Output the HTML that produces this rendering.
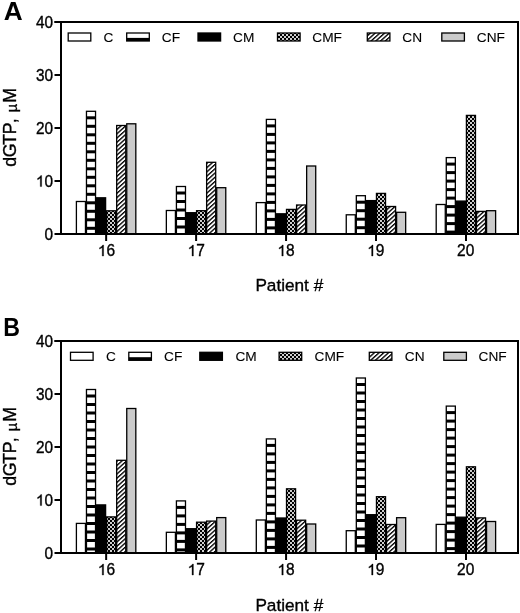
<!DOCTYPE html><html><head><meta charset="utf-8"><style>html,body{margin:0;padding:0;background:#fff;}svg{display:block;will-change:transform}</style></head><body>
<svg width="520" height="613" viewBox="0 0 520 613">
<defs>
<pattern id="pCMF" patternUnits="userSpaceOnUse" width="4" height="4"><rect width="4" height="4" fill="#000"/><rect x="0.1" y="0.1" width="1.8" height="1.8" fill="#fff"/><rect x="2.1" y="2.1" width="1.8" height="1.8" fill="#fff"/></pattern>
<pattern id="pCN" patternUnits="userSpaceOnUse" width="3.16" height="3.16" patternTransform="rotate(48)"><rect width="3.16" height="3.16" fill="#fff"/><rect x="0" y="0" width="1.35" height="3.16" fill="#000"/></pattern>
<path id="one" d="M0.373,0 L0.285,0 L0.285,0.538 C0.264,0.518 0.236,0.499 0.201,0.479 C0.167,0.459 0.136,0.444 0.109,0.434 L0.109,0.516 C0.158,0.538 0.201,0.565 0.238,0.597 C0.275,0.628 0.301,0.659 0.316,0.688 L0.373,0.688 Z" fill="#000" stroke="#000" stroke-width="0.35" vector-effect="non-scaling-stroke"/>
</defs>
<rect width="520" height="613" fill="#fff"/>
<style>text{stroke:#000;stroke-width:0.35px;paint-order:stroke}</style>
<g><text transform="translate(3.7,19.9) scale(1.04,1)" style="stroke:none" font-family='"Liberation Sans", sans-serif' font-weight="bold" font-size="25.2">A</text><text transform="translate(15.7,166.6) rotate(-90)" font-family='"Liberation Sans", sans-serif' font-size="17.8"><tspan x="-0.1" y="0">d</tspan><tspan x="9.34" y="0">G</tspan><tspan x="21.72" y="0">T</tspan><tspan x="32.35" y="0">P</tspan><tspan x="43.38" y="0">,</tspan><tspan x="54.44" y="0.8" font-size="14.5">µ</tspan><tspan x="63.79" y="0">M</tspan></text><line x1="54.5" x2="61" y1="234.00" y2="234.00" stroke="#000" stroke-width="2"/><g transform="translate(53.00,0) scale(0.96,1) translate(-53.00,0)"><text x="44.10" y="239.60" font-family='"Liberation Sans", sans-serif' font-size="16">0</text></g><line x1="54.5" x2="61" y1="181.00" y2="181.00" stroke="#000" stroke-width="2"/><g transform="translate(53.00,0) scale(0.96,1) translate(-53.00,0)"><use href="#one" transform="translate(35.20,186.60) scale(16,-16)"/><text x="44.10" y="186.60" font-family='"Liberation Sans", sans-serif' font-size="16">0</text></g><line x1="54.5" x2="61" y1="128.00" y2="128.00" stroke="#000" stroke-width="2"/><g transform="translate(53.00,0) scale(0.96,1) translate(-53.00,0)"><text x="35.20" y="133.60" font-family='"Liberation Sans", sans-serif' font-size="16">2</text><text x="44.10" y="133.60" font-family='"Liberation Sans", sans-serif' font-size="16">0</text></g><line x1="54.5" x2="61" y1="75.00" y2="75.00" stroke="#000" stroke-width="2"/><g transform="translate(53.00,0) scale(0.96,1) translate(-53.00,0)"><text x="35.20" y="80.60" font-family='"Liberation Sans", sans-serif' font-size="16">3</text><text x="44.10" y="80.60" font-family='"Liberation Sans", sans-serif' font-size="16">0</text></g><line x1="54.5" x2="61" y1="22.00" y2="22.00" stroke="#000" stroke-width="2"/><g transform="translate(53.00,0) scale(0.96,1) translate(-53.00,0)"><text x="35.20" y="27.60" font-family='"Liberation Sans", sans-serif' font-size="16">4</text><text x="44.10" y="27.60" font-family='"Liberation Sans", sans-serif' font-size="16">0</text></g><rect x="76.40" y="201.50" width="9.07" height="32.50" fill="#fff" stroke="#000" stroke-width="1.3"/><rect x="86.47" y="111.30" width="9.07" height="122.70" fill="#fff"/><rect x="86.47" y="116.30" width="9.07" height="3.00" fill="#000"/><rect x="86.47" y="124.80" width="9.07" height="3.00" fill="#000"/><rect x="86.47" y="133.30" width="9.07" height="3.00" fill="#000"/><rect x="86.47" y="141.80" width="9.07" height="3.00" fill="#000"/><rect x="86.47" y="150.30" width="9.07" height="3.00" fill="#000"/><rect x="86.47" y="158.80" width="9.07" height="3.00" fill="#000"/><rect x="86.47" y="167.30" width="9.07" height="3.00" fill="#000"/><rect x="86.47" y="175.80" width="9.07" height="3.00" fill="#000"/><rect x="86.47" y="184.30" width="9.07" height="3.00" fill="#000"/><rect x="86.47" y="192.80" width="9.07" height="3.00" fill="#000"/><rect x="86.47" y="201.30" width="9.07" height="3.00" fill="#000"/><rect x="86.47" y="209.80" width="9.07" height="3.00" fill="#000"/><rect x="86.47" y="218.30" width="9.07" height="3.00" fill="#000"/><rect x="86.47" y="226.80" width="9.07" height="3.00" fill="#000"/><rect x="86.47" y="111.30" width="9.07" height="122.70" fill="none" stroke="#000" stroke-width="1.3"/><rect x="96.54" y="197.80" width="9.07" height="36.20" fill="#000" stroke="#000" stroke-width="1.3"/><rect x="106.61" y="210.80" width="9.07" height="23.20" fill="url(#pCMF)" stroke="#000" stroke-width="1.3"/><rect x="116.68" y="125.50" width="9.07" height="108.50" fill="url(#pCN)" stroke="#000" stroke-width="1.3"/><rect x="126.75" y="123.80" width="9.07" height="110.20" fill="#cbcbcb" stroke="#000" stroke-width="1.3"/><rect x="166.35" y="210.50" width="9.07" height="23.50" fill="#fff" stroke="#000" stroke-width="1.3"/><rect x="176.42" y="186.50" width="9.07" height="47.50" fill="#fff"/><rect x="176.42" y="191.50" width="9.07" height="3.00" fill="#000"/><rect x="176.42" y="200.00" width="9.07" height="3.00" fill="#000"/><rect x="176.42" y="208.50" width="9.07" height="3.00" fill="#000"/><rect x="176.42" y="217.00" width="9.07" height="3.00" fill="#000"/><rect x="176.42" y="225.50" width="9.07" height="3.00" fill="#000"/><rect x="176.42" y="186.50" width="9.07" height="47.50" fill="none" stroke="#000" stroke-width="1.3"/><rect x="186.49" y="212.70" width="9.07" height="21.30" fill="#000" stroke="#000" stroke-width="1.3"/><rect x="196.56" y="210.70" width="9.07" height="23.30" fill="url(#pCMF)" stroke="#000" stroke-width="1.3"/><rect x="206.63" y="162.30" width="9.07" height="71.70" fill="url(#pCN)" stroke="#000" stroke-width="1.3"/><rect x="216.70" y="187.70" width="9.07" height="46.30" fill="#cbcbcb" stroke="#000" stroke-width="1.3"/><rect x="256.30" y="202.60" width="9.07" height="31.40" fill="#fff" stroke="#000" stroke-width="1.3"/><rect x="266.37" y="119.40" width="9.07" height="114.60" fill="#fff"/><rect x="266.37" y="124.40" width="9.07" height="3.00" fill="#000"/><rect x="266.37" y="132.90" width="9.07" height="3.00" fill="#000"/><rect x="266.37" y="141.40" width="9.07" height="3.00" fill="#000"/><rect x="266.37" y="149.90" width="9.07" height="3.00" fill="#000"/><rect x="266.37" y="158.40" width="9.07" height="3.00" fill="#000"/><rect x="266.37" y="166.90" width="9.07" height="3.00" fill="#000"/><rect x="266.37" y="175.40" width="9.07" height="3.00" fill="#000"/><rect x="266.37" y="183.90" width="9.07" height="3.00" fill="#000"/><rect x="266.37" y="192.40" width="9.07" height="3.00" fill="#000"/><rect x="266.37" y="200.90" width="9.07" height="3.00" fill="#000"/><rect x="266.37" y="209.40" width="9.07" height="3.00" fill="#000"/><rect x="266.37" y="217.90" width="9.07" height="3.00" fill="#000"/><rect x="266.37" y="226.40" width="9.07" height="3.00" fill="#000"/><rect x="266.37" y="119.40" width="9.07" height="114.60" fill="none" stroke="#000" stroke-width="1.3"/><rect x="276.44" y="213.80" width="9.07" height="20.20" fill="#000" stroke="#000" stroke-width="1.3"/><rect x="286.51" y="209.40" width="9.07" height="24.60" fill="url(#pCMF)" stroke="#000" stroke-width="1.3"/><rect x="296.58" y="205.00" width="9.07" height="29.00" fill="url(#pCN)" stroke="#000" stroke-width="1.3"/><rect x="306.65" y="166.00" width="9.07" height="68.00" fill="#cbcbcb" stroke="#000" stroke-width="1.3"/><rect x="346.25" y="214.80" width="9.07" height="19.20" fill="#fff" stroke="#000" stroke-width="1.3"/><rect x="356.32" y="195.70" width="9.07" height="38.30" fill="#fff"/><rect x="356.32" y="200.70" width="9.07" height="3.00" fill="#000"/><rect x="356.32" y="209.20" width="9.07" height="3.00" fill="#000"/><rect x="356.32" y="217.70" width="9.07" height="3.00" fill="#000"/><rect x="356.32" y="226.20" width="9.07" height="3.00" fill="#000"/><rect x="356.32" y="195.70" width="9.07" height="38.30" fill="none" stroke="#000" stroke-width="1.3"/><rect x="366.39" y="200.60" width="9.07" height="33.40" fill="#000" stroke="#000" stroke-width="1.3"/><rect x="376.46" y="193.40" width="9.07" height="40.60" fill="url(#pCMF)" stroke="#000" stroke-width="1.3"/><rect x="386.53" y="206.50" width="9.07" height="27.50" fill="url(#pCN)" stroke="#000" stroke-width="1.3"/><rect x="396.60" y="212.30" width="9.07" height="21.70" fill="#cbcbcb" stroke="#000" stroke-width="1.3"/><rect x="436.20" y="204.50" width="9.07" height="29.50" fill="#fff" stroke="#000" stroke-width="1.3"/><rect x="446.27" y="157.60" width="9.07" height="76.40" fill="#fff"/><rect x="446.27" y="162.60" width="9.07" height="3.00" fill="#000"/><rect x="446.27" y="171.10" width="9.07" height="3.00" fill="#000"/><rect x="446.27" y="179.60" width="9.07" height="3.00" fill="#000"/><rect x="446.27" y="188.10" width="9.07" height="3.00" fill="#000"/><rect x="446.27" y="196.60" width="9.07" height="3.00" fill="#000"/><rect x="446.27" y="205.10" width="9.07" height="3.00" fill="#000"/><rect x="446.27" y="213.60" width="9.07" height="3.00" fill="#000"/><rect x="446.27" y="222.10" width="9.07" height="3.00" fill="#000"/><rect x="446.27" y="230.60" width="9.07" height="3.00" fill="#000"/><rect x="446.27" y="157.60" width="9.07" height="76.40" fill="none" stroke="#000" stroke-width="1.3"/><rect x="456.34" y="201.10" width="9.07" height="32.90" fill="#000" stroke="#000" stroke-width="1.3"/><rect x="466.41" y="115.40" width="9.07" height="118.60" fill="url(#pCMF)" stroke="#000" stroke-width="1.3"/><rect x="476.48" y="211.40" width="9.07" height="22.60" fill="url(#pCN)" stroke="#000" stroke-width="1.3"/><rect x="486.55" y="210.70" width="9.07" height="23.30" fill="#cbcbcb" stroke="#000" stroke-width="1.3"/><path d="M61 22 H518 V234 H61 Z" fill="none" stroke="#000" stroke-width="2"/><line x1="54.5" x2="61" y1="22" y2="22" stroke="#000" stroke-width="2"/><line x1="106.15" x2="106.15" y1="234" y2="241" stroke="#000" stroke-width="2"/><g transform="translate(106.45,0) scale(0.97,1) translate(-106.45,0)"><use href="#one" transform="translate(97.55,256.00) scale(16,-16)"/><text x="106.45" y="256.00" font-family='"Liberation Sans", sans-serif' font-size="16">6</text></g><line x1="196.11" x2="196.11" y1="234" y2="241" stroke="#000" stroke-width="2"/><g transform="translate(196.25,0) scale(0.97,1) translate(-196.25,0)"><use href="#one" transform="translate(187.35,256.00) scale(16,-16)"/><text x="196.25" y="256.00" font-family='"Liberation Sans", sans-serif' font-size="16">7</text></g><line x1="286.07" x2="286.07" y1="234" y2="241" stroke="#000" stroke-width="2"/><g transform="translate(286.05,0) scale(0.97,1) translate(-286.05,0)"><use href="#one" transform="translate(277.15,256.00) scale(16,-16)"/><text x="286.05" y="256.00" font-family='"Liberation Sans", sans-serif' font-size="16">8</text></g><line x1="376.03" x2="376.03" y1="234" y2="241" stroke="#000" stroke-width="2"/><g transform="translate(375.85,0) scale(0.97,1) translate(-375.85,0)"><use href="#one" transform="translate(366.95,256.00) scale(16,-16)"/><text x="375.85" y="256.00" font-family='"Liberation Sans", sans-serif' font-size="16">9</text></g><line x1="465.99" x2="465.99" y1="234" y2="241" stroke="#000" stroke-width="2"/><g transform="translate(465.65,0) scale(0.97,1) translate(-465.65,0)"><text x="456.75" y="256.00" font-family='"Liberation Sans", sans-serif' font-size="16">2</text><text x="465.65" y="256.00" font-family='"Liberation Sans", sans-serif' font-size="16">0</text></g><text x="289.3" y="291.30" text-anchor="middle" font-family='"Liberation Sans", sans-serif' font-size="17.2">Patient #</text><rect x="68.20" y="33.00" width="22.6" height="8.0" fill="#fff" stroke="#000" stroke-width="1.3"/><text x="103.50" y="42.00" style="stroke-width:0.12px" font-family='"Liberation Sans", sans-serif' font-size="13.7">C</text><rect x="126.70" y="33.00" width="22.6" height="8.0" fill="#fff"/><rect x="126.70" y="37.90" width="22.6" height="3.1" fill="#000"/><rect x="126.70" y="33.00" width="22.6" height="8.0" fill="none" stroke="#000" stroke-width="1.3"/><text x="161.80" y="42.00" style="stroke-width:0.12px" font-family='"Liberation Sans", sans-serif' font-size="13.7">CF</text><rect x="198.00" y="33.00" width="22.6" height="8.0" fill="#000" stroke="#000" stroke-width="1.3"/><text x="233.00" y="42.00" style="stroke-width:0.12px" font-family='"Liberation Sans", sans-serif' font-size="13.7">CM</text><rect x="277.50" y="33.00" width="22.6" height="8.0" fill="url(#pCMF)" stroke="#000" stroke-width="1.3"/><text x="312.30" y="42.00" style="stroke-width:0.12px" font-family='"Liberation Sans", sans-serif' font-size="13.7">CMF</text><rect x="367.30" y="33.00" width="22.6" height="8.0" fill="url(#pCN)" stroke="#000" stroke-width="1.3"/><text x="402.30" y="42.00" style="stroke-width:0.12px" font-family='"Liberation Sans", sans-serif' font-size="13.7">CN</text><rect x="441.80" y="33.00" width="22.6" height="8.0" fill="#cbcbcb" stroke="#000" stroke-width="1.3"/><text x="476.80" y="42.00" style="stroke-width:0.12px" font-family='"Liberation Sans", sans-serif' font-size="13.7">CNF</text></g>
<g><text transform="translate(3.3,335.7) scale(0.92,1)" style="stroke:none" font-family='"Liberation Sans", sans-serif' font-weight="bold" font-size="25.2">B</text><text transform="translate(15.7,485.6) rotate(-90)" font-family='"Liberation Sans", sans-serif' font-size="17.8"><tspan x="-0.1" y="0">d</tspan><tspan x="9.34" y="0">G</tspan><tspan x="21.72" y="0">T</tspan><tspan x="32.35" y="0">P</tspan><tspan x="43.38" y="0">,</tspan><tspan x="54.44" y="0.8" font-size="14.5">µ</tspan><tspan x="63.79" y="0">M</tspan></text><line x1="54.5" x2="61" y1="553.00" y2="553.00" stroke="#000" stroke-width="2"/><g transform="translate(53.00,0) scale(0.96,1) translate(-53.00,0)"><text x="44.10" y="558.60" font-family='"Liberation Sans", sans-serif' font-size="16">0</text></g><line x1="54.5" x2="61" y1="500.00" y2="500.00" stroke="#000" stroke-width="2"/><g transform="translate(53.00,0) scale(0.96,1) translate(-53.00,0)"><use href="#one" transform="translate(35.20,505.60) scale(16,-16)"/><text x="44.10" y="505.60" font-family='"Liberation Sans", sans-serif' font-size="16">0</text></g><line x1="54.5" x2="61" y1="447.00" y2="447.00" stroke="#000" stroke-width="2"/><g transform="translate(53.00,0) scale(0.96,1) translate(-53.00,0)"><text x="35.20" y="452.60" font-family='"Liberation Sans", sans-serif' font-size="16">2</text><text x="44.10" y="452.60" font-family='"Liberation Sans", sans-serif' font-size="16">0</text></g><line x1="54.5" x2="61" y1="394.00" y2="394.00" stroke="#000" stroke-width="2"/><g transform="translate(53.00,0) scale(0.96,1) translate(-53.00,0)"><text x="35.20" y="399.60" font-family='"Liberation Sans", sans-serif' font-size="16">3</text><text x="44.10" y="399.60" font-family='"Liberation Sans", sans-serif' font-size="16">0</text></g><line x1="54.5" x2="61" y1="341.00" y2="341.00" stroke="#000" stroke-width="2"/><g transform="translate(53.00,0) scale(0.96,1) translate(-53.00,0)"><text x="35.20" y="346.60" font-family='"Liberation Sans", sans-serif' font-size="16">4</text><text x="44.10" y="346.60" font-family='"Liberation Sans", sans-serif' font-size="16">0</text></g><rect x="76.40" y="523.40" width="9.07" height="29.60" fill="#fff" stroke="#000" stroke-width="1.3"/><rect x="86.47" y="389.50" width="9.07" height="163.50" fill="#fff"/><rect x="86.47" y="394.50" width="9.07" height="3.00" fill="#000"/><rect x="86.47" y="403.00" width="9.07" height="3.00" fill="#000"/><rect x="86.47" y="411.50" width="9.07" height="3.00" fill="#000"/><rect x="86.47" y="420.00" width="9.07" height="3.00" fill="#000"/><rect x="86.47" y="428.50" width="9.07" height="3.00" fill="#000"/><rect x="86.47" y="437.00" width="9.07" height="3.00" fill="#000"/><rect x="86.47" y="445.50" width="9.07" height="3.00" fill="#000"/><rect x="86.47" y="454.00" width="9.07" height="3.00" fill="#000"/><rect x="86.47" y="462.50" width="9.07" height="3.00" fill="#000"/><rect x="86.47" y="471.00" width="9.07" height="3.00" fill="#000"/><rect x="86.47" y="479.50" width="9.07" height="3.00" fill="#000"/><rect x="86.47" y="488.00" width="9.07" height="3.00" fill="#000"/><rect x="86.47" y="496.50" width="9.07" height="3.00" fill="#000"/><rect x="86.47" y="505.00" width="9.07" height="3.00" fill="#000"/><rect x="86.47" y="513.50" width="9.07" height="3.00" fill="#000"/><rect x="86.47" y="522.00" width="9.07" height="3.00" fill="#000"/><rect x="86.47" y="530.50" width="9.07" height="3.00" fill="#000"/><rect x="86.47" y="539.00" width="9.07" height="3.00" fill="#000"/><rect x="86.47" y="547.50" width="9.07" height="3.00" fill="#000"/><rect x="86.47" y="389.50" width="9.07" height="163.50" fill="none" stroke="#000" stroke-width="1.3"/><rect x="96.54" y="504.90" width="9.07" height="48.10" fill="#000" stroke="#000" stroke-width="1.3"/><rect x="106.61" y="516.90" width="9.07" height="36.10" fill="url(#pCMF)" stroke="#000" stroke-width="1.3"/><rect x="116.68" y="460.30" width="9.07" height="92.70" fill="url(#pCN)" stroke="#000" stroke-width="1.3"/><rect x="126.75" y="408.50" width="9.07" height="144.50" fill="#cbcbcb" stroke="#000" stroke-width="1.3"/><rect x="166.35" y="532.30" width="9.07" height="20.70" fill="#fff" stroke="#000" stroke-width="1.3"/><rect x="176.42" y="500.90" width="9.07" height="52.10" fill="#fff"/><rect x="176.42" y="505.90" width="9.07" height="3.00" fill="#000"/><rect x="176.42" y="514.40" width="9.07" height="3.00" fill="#000"/><rect x="176.42" y="522.90" width="9.07" height="3.00" fill="#000"/><rect x="176.42" y="531.40" width="9.07" height="3.00" fill="#000"/><rect x="176.42" y="539.90" width="9.07" height="3.00" fill="#000"/><rect x="176.42" y="548.40" width="9.07" height="3.00" fill="#000"/><rect x="176.42" y="500.90" width="9.07" height="52.10" fill="none" stroke="#000" stroke-width="1.3"/><rect x="186.49" y="528.70" width="9.07" height="24.30" fill="#000" stroke="#000" stroke-width="1.3"/><rect x="196.56" y="522.20" width="9.07" height="30.80" fill="url(#pCMF)" stroke="#000" stroke-width="1.3"/><rect x="206.63" y="521.10" width="9.07" height="31.90" fill="url(#pCN)" stroke="#000" stroke-width="1.3"/><rect x="216.70" y="517.60" width="9.07" height="35.40" fill="#cbcbcb" stroke="#000" stroke-width="1.3"/><rect x="256.30" y="520.00" width="9.07" height="33.00" fill="#fff" stroke="#000" stroke-width="1.3"/><rect x="266.37" y="438.90" width="9.07" height="114.10" fill="#fff"/><rect x="266.37" y="443.90" width="9.07" height="3.00" fill="#000"/><rect x="266.37" y="452.40" width="9.07" height="3.00" fill="#000"/><rect x="266.37" y="460.90" width="9.07" height="3.00" fill="#000"/><rect x="266.37" y="469.40" width="9.07" height="3.00" fill="#000"/><rect x="266.37" y="477.90" width="9.07" height="3.00" fill="#000"/><rect x="266.37" y="486.40" width="9.07" height="3.00" fill="#000"/><rect x="266.37" y="494.90" width="9.07" height="3.00" fill="#000"/><rect x="266.37" y="503.40" width="9.07" height="3.00" fill="#000"/><rect x="266.37" y="511.90" width="9.07" height="3.00" fill="#000"/><rect x="266.37" y="520.40" width="9.07" height="3.00" fill="#000"/><rect x="266.37" y="528.90" width="9.07" height="3.00" fill="#000"/><rect x="266.37" y="537.40" width="9.07" height="3.00" fill="#000"/><rect x="266.37" y="545.90" width="9.07" height="3.00" fill="#000"/><rect x="266.37" y="438.90" width="9.07" height="114.10" fill="none" stroke="#000" stroke-width="1.3"/><rect x="276.44" y="518.00" width="9.07" height="35.00" fill="#000" stroke="#000" stroke-width="1.3"/><rect x="286.51" y="488.80" width="9.07" height="64.20" fill="url(#pCMF)" stroke="#000" stroke-width="1.3"/><rect x="296.58" y="520.20" width="9.07" height="32.80" fill="url(#pCN)" stroke="#000" stroke-width="1.3"/><rect x="306.65" y="524.00" width="9.07" height="29.00" fill="#cbcbcb" stroke="#000" stroke-width="1.3"/><rect x="346.25" y="530.70" width="9.07" height="22.30" fill="#fff" stroke="#000" stroke-width="1.3"/><rect x="356.32" y="378.00" width="9.07" height="175.00" fill="#fff"/><rect x="356.32" y="383.00" width="9.07" height="3.00" fill="#000"/><rect x="356.32" y="391.50" width="9.07" height="3.00" fill="#000"/><rect x="356.32" y="400.00" width="9.07" height="3.00" fill="#000"/><rect x="356.32" y="408.50" width="9.07" height="3.00" fill="#000"/><rect x="356.32" y="417.00" width="9.07" height="3.00" fill="#000"/><rect x="356.32" y="425.50" width="9.07" height="3.00" fill="#000"/><rect x="356.32" y="434.00" width="9.07" height="3.00" fill="#000"/><rect x="356.32" y="442.50" width="9.07" height="3.00" fill="#000"/><rect x="356.32" y="451.00" width="9.07" height="3.00" fill="#000"/><rect x="356.32" y="459.50" width="9.07" height="3.00" fill="#000"/><rect x="356.32" y="468.00" width="9.07" height="3.00" fill="#000"/><rect x="356.32" y="476.50" width="9.07" height="3.00" fill="#000"/><rect x="356.32" y="485.00" width="9.07" height="3.00" fill="#000"/><rect x="356.32" y="493.50" width="9.07" height="3.00" fill="#000"/><rect x="356.32" y="502.00" width="9.07" height="3.00" fill="#000"/><rect x="356.32" y="510.50" width="9.07" height="3.00" fill="#000"/><rect x="356.32" y="519.00" width="9.07" height="3.00" fill="#000"/><rect x="356.32" y="527.50" width="9.07" height="3.00" fill="#000"/><rect x="356.32" y="536.00" width="9.07" height="3.00" fill="#000"/><rect x="356.32" y="544.50" width="9.07" height="3.00" fill="#000"/><rect x="356.32" y="378.00" width="9.07" height="175.00" fill="none" stroke="#000" stroke-width="1.3"/><rect x="366.39" y="514.70" width="9.07" height="38.30" fill="#000" stroke="#000" stroke-width="1.3"/><rect x="376.46" y="496.70" width="9.07" height="56.30" fill="url(#pCMF)" stroke="#000" stroke-width="1.3"/><rect x="386.53" y="524.50" width="9.07" height="28.50" fill="url(#pCN)" stroke="#000" stroke-width="1.3"/><rect x="396.60" y="517.70" width="9.07" height="35.30" fill="#cbcbcb" stroke="#000" stroke-width="1.3"/><rect x="436.20" y="524.40" width="9.07" height="28.60" fill="#fff" stroke="#000" stroke-width="1.3"/><rect x="446.27" y="406.10" width="9.07" height="146.90" fill="#fff"/><rect x="446.27" y="411.10" width="9.07" height="3.00" fill="#000"/><rect x="446.27" y="419.60" width="9.07" height="3.00" fill="#000"/><rect x="446.27" y="428.10" width="9.07" height="3.00" fill="#000"/><rect x="446.27" y="436.60" width="9.07" height="3.00" fill="#000"/><rect x="446.27" y="445.10" width="9.07" height="3.00" fill="#000"/><rect x="446.27" y="453.60" width="9.07" height="3.00" fill="#000"/><rect x="446.27" y="462.10" width="9.07" height="3.00" fill="#000"/><rect x="446.27" y="470.60" width="9.07" height="3.00" fill="#000"/><rect x="446.27" y="479.10" width="9.07" height="3.00" fill="#000"/><rect x="446.27" y="487.60" width="9.07" height="3.00" fill="#000"/><rect x="446.27" y="496.10" width="9.07" height="3.00" fill="#000"/><rect x="446.27" y="504.60" width="9.07" height="3.00" fill="#000"/><rect x="446.27" y="513.10" width="9.07" height="3.00" fill="#000"/><rect x="446.27" y="521.60" width="9.07" height="3.00" fill="#000"/><rect x="446.27" y="530.10" width="9.07" height="3.00" fill="#000"/><rect x="446.27" y="538.60" width="9.07" height="3.00" fill="#000"/><rect x="446.27" y="547.10" width="9.07" height="3.00" fill="#000"/><rect x="446.27" y="406.10" width="9.07" height="146.90" fill="none" stroke="#000" stroke-width="1.3"/><rect x="456.34" y="517.20" width="9.07" height="35.80" fill="#000" stroke="#000" stroke-width="1.3"/><rect x="466.41" y="466.80" width="9.07" height="86.20" fill="url(#pCMF)" stroke="#000" stroke-width="1.3"/><rect x="476.48" y="517.90" width="9.07" height="35.10" fill="url(#pCN)" stroke="#000" stroke-width="1.3"/><rect x="486.55" y="521.50" width="9.07" height="31.50" fill="#cbcbcb" stroke="#000" stroke-width="1.3"/><path d="M61 341 H518 V553 H61 Z" fill="none" stroke="#000" stroke-width="2"/><line x1="54.5" x2="61" y1="341" y2="341" stroke="#000" stroke-width="2"/><line x1="106.15" x2="106.15" y1="553" y2="560" stroke="#000" stroke-width="2"/><g transform="translate(106.45,0) scale(0.97,1) translate(-106.45,0)"><use href="#one" transform="translate(97.55,575.00) scale(16,-16)"/><text x="106.45" y="575.00" font-family='"Liberation Sans", sans-serif' font-size="16">6</text></g><line x1="196.11" x2="196.11" y1="553" y2="560" stroke="#000" stroke-width="2"/><g transform="translate(196.25,0) scale(0.97,1) translate(-196.25,0)"><use href="#one" transform="translate(187.35,575.00) scale(16,-16)"/><text x="196.25" y="575.00" font-family='"Liberation Sans", sans-serif' font-size="16">7</text></g><line x1="286.07" x2="286.07" y1="553" y2="560" stroke="#000" stroke-width="2"/><g transform="translate(286.05,0) scale(0.97,1) translate(-286.05,0)"><use href="#one" transform="translate(277.15,575.00) scale(16,-16)"/><text x="286.05" y="575.00" font-family='"Liberation Sans", sans-serif' font-size="16">8</text></g><line x1="376.03" x2="376.03" y1="553" y2="560" stroke="#000" stroke-width="2"/><g transform="translate(375.85,0) scale(0.97,1) translate(-375.85,0)"><use href="#one" transform="translate(366.95,575.00) scale(16,-16)"/><text x="375.85" y="575.00" font-family='"Liberation Sans", sans-serif' font-size="16">9</text></g><line x1="465.99" x2="465.99" y1="553" y2="560" stroke="#000" stroke-width="2"/><g transform="translate(465.65,0) scale(0.97,1) translate(-465.65,0)"><text x="456.75" y="575.00" font-family='"Liberation Sans", sans-serif' font-size="16">2</text><text x="465.65" y="575.00" font-family='"Liberation Sans", sans-serif' font-size="16">0</text></g><text x="289.3" y="611.20" text-anchor="middle" font-family='"Liberation Sans", sans-serif' font-size="17.2">Patient #</text><rect x="70.50" y="352.30" width="22.6" height="8.0" fill="#fff" stroke="#000" stroke-width="1.3"/><text x="106.00" y="361.00" style="stroke-width:0.12px" font-family='"Liberation Sans", sans-serif' font-size="13.7">C</text><rect x="128.80" y="352.30" width="22.6" height="8.0" fill="#fff"/><rect x="128.80" y="357.20" width="22.6" height="3.1" fill="#000"/><rect x="128.80" y="352.30" width="22.6" height="8.0" fill="none" stroke="#000" stroke-width="1.3"/><text x="164.10" y="361.00" style="stroke-width:0.12px" font-family='"Liberation Sans", sans-serif' font-size="13.7">CF</text><rect x="199.80" y="352.30" width="22.6" height="8.0" fill="#000" stroke="#000" stroke-width="1.3"/><text x="235.40" y="361.00" style="stroke-width:0.12px" font-family='"Liberation Sans", sans-serif' font-size="13.7">CM</text><rect x="279.10" y="352.30" width="22.6" height="8.0" fill="url(#pCMF)" stroke="#000" stroke-width="1.3"/><text x="314.50" y="361.00" style="stroke-width:0.12px" font-family='"Liberation Sans", sans-serif' font-size="13.7">CMF</text><rect x="369.30" y="352.30" width="22.6" height="8.0" fill="url(#pCN)" stroke="#000" stroke-width="1.3"/><text x="404.80" y="361.00" style="stroke-width:0.12px" font-family='"Liberation Sans", sans-serif' font-size="13.7">CN</text><rect x="443.80" y="352.30" width="22.6" height="8.0" fill="#cbcbcb" stroke="#000" stroke-width="1.3"/><text x="478.60" y="361.00" style="stroke-width:0.12px" font-family='"Liberation Sans", sans-serif' font-size="13.7">CNF</text></g>
</svg></body></html>
